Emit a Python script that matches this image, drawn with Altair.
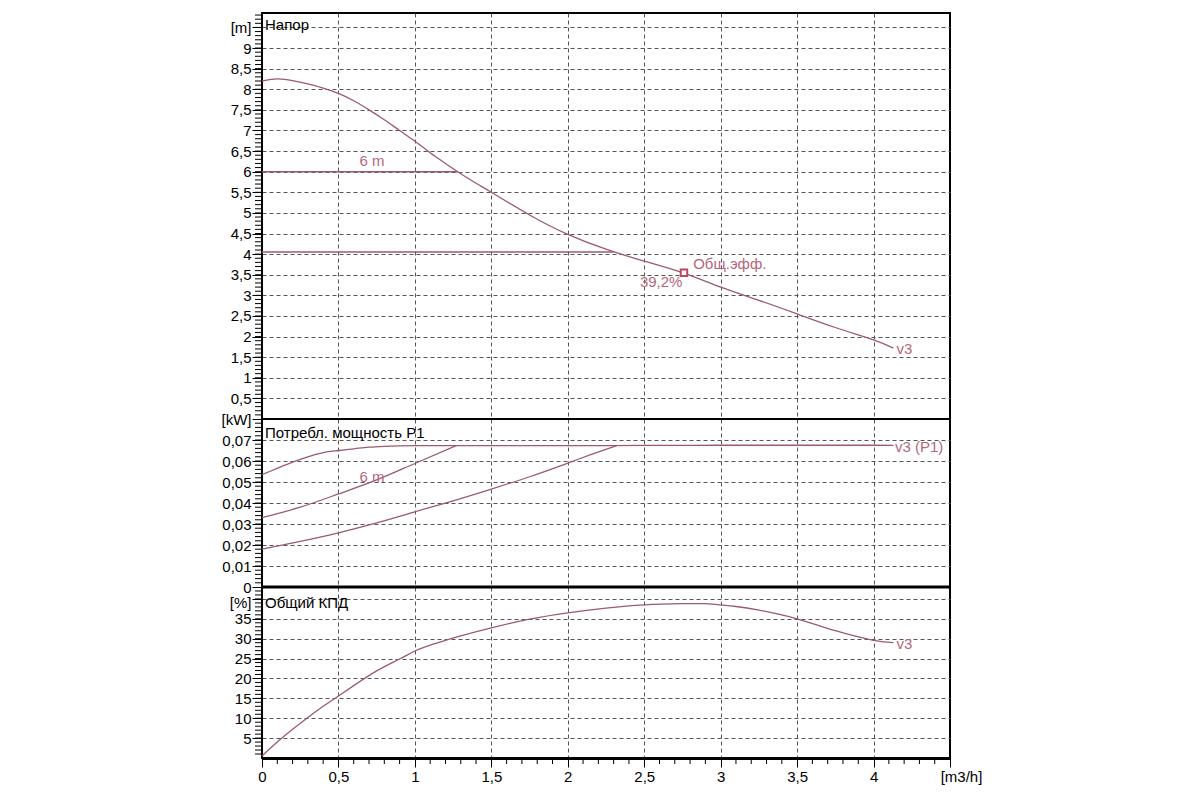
import altair as alt
import pandas as pd

# ---------------- data ----------------
# Head curve v3 (Напор), q in m3/h, h in m
head_q = [0, 0.1, 0.2, 0.3, 0.4, 0.5, 0.6, 0.7, 0.8, 0.9, 1.0, 1.1, 1.2, 1.28, 1.4, 1.5,
          1.75, 2.0, 2.25, 2.5, 2.75, 3.0, 3.25, 3.5, 3.75, 4.0, 4.13]
head_h = [8.2, 8.25, 8.21, 8.13, 8.03, 7.9, 7.72, 7.5, 7.26, 7.0, 6.74, 6.46, 6.2, 6.0, 5.72, 5.5,
          4.95, 4.48, 4.12, 3.83, 3.55, 3.2, 2.88, 2.55, 2.22, 1.92, 1.72]

# Constant-head lines (6 m and ~4 m)
h6_q = [0, 1.28]
h6_v = [6.0, 6.0]
h4_q = [0, 2.3]
h4_v = [4.05, 4.05]

# Duty point
duty_q = [2.76]
duty_h = [3.55]

# Power P1, kW
p_v3_q = [0, 0.1, 0.2, 0.3, 0.4, 0.5, 0.6, 0.7, 0.8, 0.9, 1.0, 1.5, 2.0, 2.5, 3.0, 3.5, 4.0, 4.13]
p_v3 = [0.0535, 0.0565, 0.0595, 0.062, 0.064, 0.065, 0.0658, 0.0666, 0.067, 0.0672, 0.0673,
        0.0673, 0.0673, 0.0674, 0.0675, 0.0675, 0.0675, 0.0674]
p_6m_q = [0, 0.25, 0.5, 0.75, 1.0, 1.27]
p_6m = [0.033, 0.038, 0.0443, 0.051, 0.0588, 0.0673]
p_4m_q = [0, 0.25, 0.5, 0.75, 1.0, 1.25, 1.5, 1.75, 2.0, 2.15, 2.32]
p_4m = [0.018, 0.0217, 0.0258, 0.0305, 0.0358, 0.041, 0.0466, 0.0525, 0.059, 0.063, 0.0673]

# Efficiency, %
eff_q = [0, 0.1, 0.2, 0.3, 0.4, 0.5, 0.6, 0.75, 0.9, 1.0, 1.1, 1.2, 1.3, 1.5, 1.75, 2.0, 2.25, 2.5,
         2.75, 2.9, 3.0, 3.1, 3.25, 3.5, 3.75, 4.0, 4.13]
eff_v = [0.5, 4.0, 7.2, 10.2, 13.0, 15.6, 18.2, 21.9, 24.9, 26.9, 28.4, 29.6, 30.7, 32.7, 34.9, 36.5,
         37.7, 38.5, 38.8, 38.8, 38.5, 38.1, 37.2, 35.0, 32.0, 29.6, 29.0]

# Annotations
head_lbl_q = [0.72, 2.82, 2.75, 4.15]
head_lbl_v = [6.26, 3.76, 3.32, 1.7]
head_lbl_t = ["6 m", "Общ.эфф.", "39,2%", "v3"]
head_lbl_a = ["center", "left", "right", "left"]
pow_lbl_q = [0.72, 4.14]
pow_lbl_v = [0.0524, 0.0667]
pow_lbl_t = ["6 m", "v3 (P1)"]
pow_lbl_a = ["center", "left"]
eff_lbl_q = [4.15]
eff_lbl_v = [28.7]
eff_lbl_t = ["v3"]

panel_titles = ["Напор", "Потребл. мощность P1", "Общий КПД"]

# Axis tick values
x_major = [0, 0.5, 1.0, 1.5, 2.0, 2.5, 3.0, 3.5, 4.0, 4.5]
x_minor = [round(i * 0.1, 1) for i in range(46) if i % 5 != 0]
h_major = [round(i * 0.5, 1) for i in range(1, 20)]
h_minor = [round(i * 0.1, 1) for i in range(1, 99)]
p_major = [round(i * 0.01, 2) for i in range(0, 9)]
p_minor = [round(i * 0.002, 3) for i in range(1, 40)]
e_major = [5, 10, 15, 20, 25, 30, 35, 40]
e_minor = list(range(1, 43))

# ---------------- style ----------------
W = 688
H1, H2, H3 = 406, 168, 171
LINE = "#9c5a6d"
TXT = "#b5677a"
GRID = "#555555"
FONT = "Liberation Sans"
FS = 15

xscale = alt.Scale(domain=[0, 4.5], nice=False, zero=False)

x_axis_top = alt.Axis(values=[v for v in x_major if 0 < v < 4.5], grid=True, labels=False,
                      ticks=False, domain=False, gridDash=[4, 3], gridColor=GRID, gridWidth=1,
                      title=None)

x_axis_bottom = alt.Axis(
    values=x_major, title=None, grid=True,
    gridDash=[4, 3], gridColor=GRID, gridWidth=1,
    gridOpacity={"condition": {"test": "datum.value > 0.01 && datum.value < 4.49", "value": 1},
                 "value": 0},
    tickSize=9, tickColor="black", domainColor="black", domainWidth=3,
    labelExpr="abs(datum.value - 4.5) < 1e-6 ? '[m3/h]' : replace(format(datum.value, '.3~g'), '.', ',')",
    labelOffset={"condition": {"test": "abs(datum.value - 4.5) < 1e-6", "value": 11}, "value": 0},
    labelFlush=False, labelOverlap=False, labelBound=False,
    labelFont=FONT, labelFontSize=FS, labelColor="black", labelPadding=2,
)


def y_axis(values, top_val, top_label, no_label_zero, top_offset=0):
    return alt.Axis(
        values=values, title=None, grid=True,
        gridDash=[4, 3], gridColor=GRID, gridWidth=1,
        gridOpacity={"condition": {"test": "datum.value > 1e-9", "value": 1}, "value": 0},
        tickSize=10, tickColor="black", domainColor="black", domainWidth=1,
        labelExpr=(f"abs(datum.value - {top_val}) < 1e-9 ? '{top_label}' : "
                   + ("(datum.value < 1e-9 ? '' : " if no_label_zero else "(")
                   + "replace(format(datum.value, '.3~g'), '.', ','))"),
        labelOffset={"condition": {"test": f"abs(datum.value - {top_val}) < 1e-9", "value": top_offset},
                     "value": 0},
        labelOverlap=False, labelBound=False, labelFlush=False,
        labelFont=FONT, labelFontSize=FS, labelColor="black", labelPadding=1,
        minExtent=44, maxExtent=44,
    )


def line_layer(qs, vs, yscale, yaxis, xaxis, width=1.3, interp="monotone"):
    df = pd.DataFrame({"q": qs, "v": vs})
    return alt.Chart(df).mark_line(color=LINE, strokeWidth=width, interpolate=interp).encode(
        x=alt.X("q:Q", scale=xscale, axis=xaxis),
        y=alt.Y("v:Q", scale=yscale, axis=yaxis),
    )


def text_layer(qs, vs, ts, aligns, yscale, yaxis, xaxis):
    df = pd.DataFrame({"q": qs, "v": vs, "t": ts, "a": aligns})
    layers = []
    for al in sorted(set(aligns)):
        layers.append(
            alt.Chart(df).transform_filter(alt.datum.a == al).mark_text(
                align=al, baseline="middle", font=FONT, fontSize=FS, color=TXT
            ).encode(
                x=alt.X("q:Q", scale=xscale, axis=xaxis),
                y=alt.Y("v:Q", scale=yscale, axis=yaxis),
                text="t:N",
            )
        )
    return layers


def y_minor_ticks(vals, yscale, yaxis):
    df = pd.DataFrame({"v": vals})
    return alt.Chart(df).mark_rule(color="black", strokeWidth=1).encode(
        y=alt.Y("v:Q", scale=yscale, axis=yaxis),
        x=alt.value(-7), x2=alt.value(0),
    )


def x_minor_ticks(vals, h, xaxis):
    df = pd.DataFrame({"q": vals})
    return alt.Chart(df).mark_rule(color="black", strokeWidth=1).encode(
        x=alt.X("q:Q", scale=xscale, axis=xaxis),
        y=alt.value(h), y2=alt.value(h + 6),
    )


def title_layer(txt, ypx):
    return alt.Chart(pd.DataFrame({"t": [txt]})).mark_text(
        align="left", baseline="middle", font=FONT, fontSize=FS, color="black"
    ).encode(x=alt.value(3), y=alt.value(ypx), text="t:N")


# ---------------- panel 1: head ----------------
hs = alt.Scale(domain=[0, 9.85], nice=False, zero=False)
hax = y_axis(h_major, 9.5, "[m]", True)

p1_layers = [
    y_minor_ticks(h_minor, hs, hax),
    line_layer(head_q, head_h, hs, hax, x_axis_top, interp="natural"),
    line_layer(h6_q, h6_v, hs, hax, x_axis_top, 1.5),
    line_layer(h4_q, h4_v, hs, hax, x_axis_top, 1.5),
    alt.Chart(pd.DataFrame({"q": duty_q, "v": duty_h})).mark_point(
        shape="square", size=42, filled=False, color="#c0455f", strokeWidth=2, opacity=1, fill="white"
    ).encode(x=alt.X("q:Q", scale=xscale, axis=x_axis_top), y=alt.Y("v:Q", scale=hs, axis=hax)),
] + text_layer(head_lbl_q, head_lbl_v, head_lbl_t, head_lbl_a, hs, hax, x_axis_top) + [
    title_layer(panel_titles[0], 12),
]
p1 = alt.layer(*p1_layers).properties(width=W, height=H1)

# ---------------- panel 2: power ----------------
ps = alt.Scale(domain=[0, 0.08], nice=False, zero=False)
pax = y_axis(p_major, 0.08, "[kW]", False)

sep2 = alt.Chart(pd.DataFrame({"k": [0]})).mark_rule(color="black", strokeWidth=2).encode(
    y=alt.value(0), x=alt.value(0), x2=alt.value(W))

p2_layers = [
    y_minor_ticks(p_minor, ps, pax),
    line_layer(p_v3_q, p_v3, ps, pax, x_axis_top),
    line_layer(p_6m_q, p_6m, ps, pax, x_axis_top),
    line_layer(p_4m_q, p_4m, ps, pax, x_axis_top),
] + text_layer(pow_lbl_q, pow_lbl_v, pow_lbl_t, pow_lbl_a, ps, pax, x_axis_top) + [
    title_layer(panel_titles[1], 14),
    sep2,
]
p2 = alt.layer(*p2_layers).properties(width=W, height=H2)

# ---------------- panel 3: efficiency ----------------
es = alt.Scale(domain=[0, 43], nice=False, zero=False)
eax = y_axis(e_major, 40, "[%]", True, top_offset=4)

sep3 = alt.Chart(pd.DataFrame({"k": [0]})).mark_rule(color="black", strokeWidth=3).encode(
    y=alt.value(0), x=alt.value(0), x2=alt.value(W))

p3_layers = [
    y_minor_ticks(e_minor, es, eax),
    x_minor_ticks(x_minor, H3, x_axis_bottom),
    line_layer(eff_q, eff_v, es, eax, x_axis_bottom, interp="natural"),
] + text_layer(eff_lbl_q, eff_lbl_v, eff_lbl_t, ["left"], es, eax, x_axis_bottom) + [
    title_layer(panel_titles[2], 16),
    sep3,
]
p3 = alt.layer(*p3_layers).properties(width=W, height=H3)

chart = alt.vconcat(p1, p2, p3, spacing=0, bounds="flush").properties(
    padding={"left": 209, "top": 4, "right": 10, "bottom": 5},
    background="white",
).configure_view(stroke="black", strokeWidth=2).configure_axis(
    labelFont=FONT
)

chart.save("out.html", embed_options={"renderer": "svg", "actions": False})
